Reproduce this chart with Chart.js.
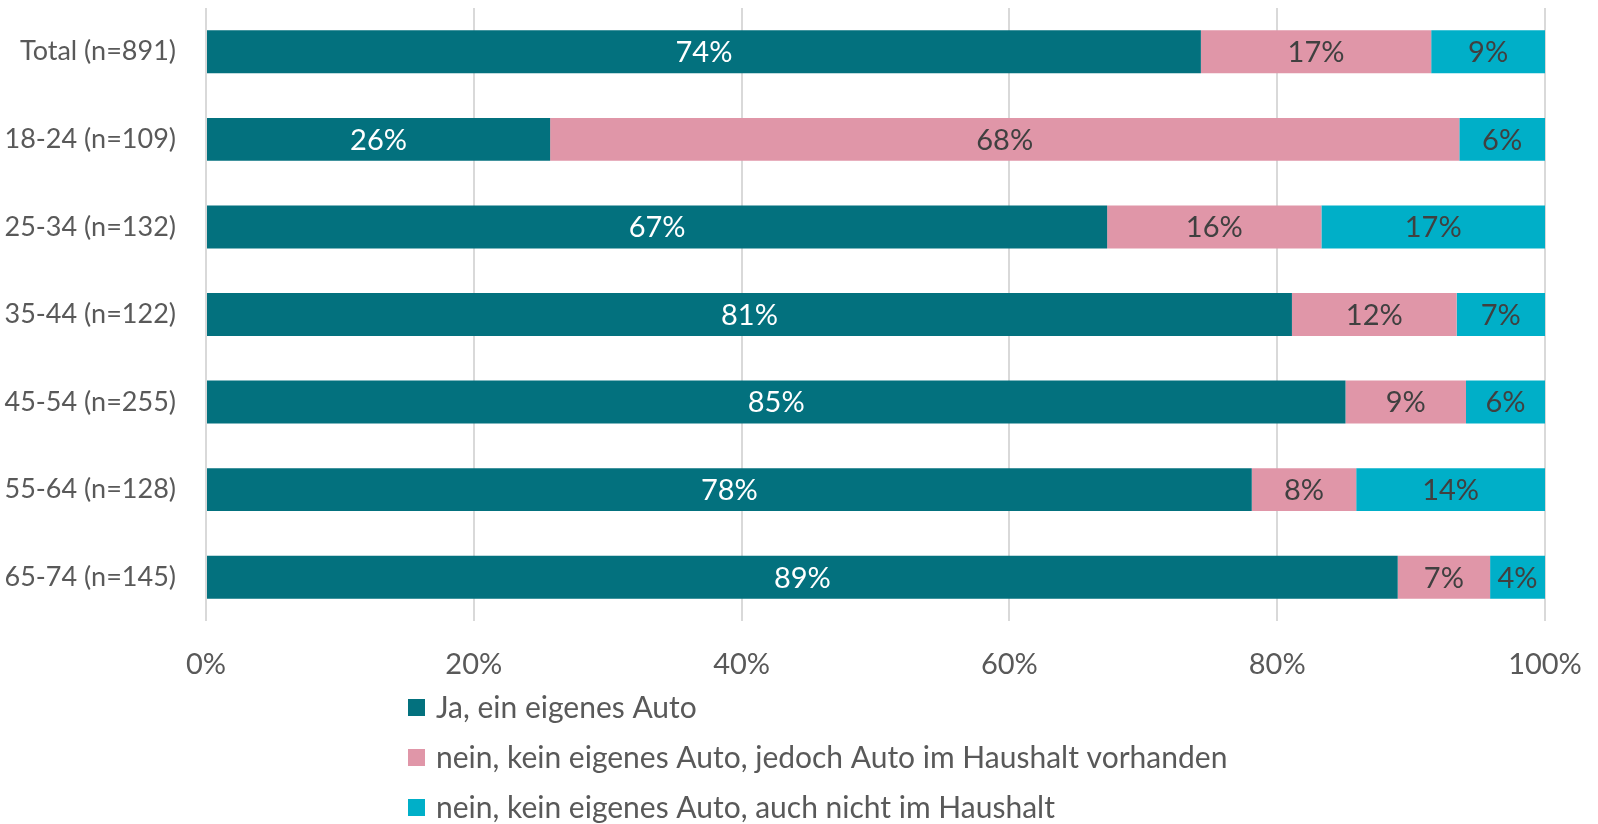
<!DOCTYPE html>
<html>
<head>
<meta charset="utf-8">
<script src="https://cdn.jsdelivr.net/npm/chart.js@4.4.1/dist/chart.umd.min.js"></script>
<style>
  html, body { margin: 0; padding: 0; background: #fff; }
  #wrap { width: 1598px; height: 824px; }
</style>
</head>
<body>
<div id="wrap"><canvas id="chart" width="1598" height="824"></canvas></div>
<script>
// ── Data ──
const categories = ["Total (n=891)", "18-24 (n=109)", "25-34 (n=132)", "35-44 (n=122)", "45-54 (n=255)", "55-64 (n=128)", "65-74 (n=145)"];
const seriesNames = [
  "Ja, ein eigenes Auto",
  "nein, kein eigenes Auto, jedoch Auto im Haushalt vorhanden",
  "nein, kein eigenes Auto, auch nicht im Haushalt"
];
const ownCar       = [74.3, 25.7, 67.3, 81.1, 85.1, 78.1, 89.0];
const householdCar = [17.2, 67.9, 16.0, 12.3, 9.0, 7.8, 6.9];
const noCar        = [8.5, 6.4, 16.7, 6.6, 5.9, 14.1, 4.1];
const xTicks = [0, 20, 40, 60, 80, 100];

const COLORS = ["#03717e", "#e096a8", "#00afc8"];
const LABEL_COLORS = ["#ffffff", "#404040", "#404040"];
const FONT = "Lato";
const FONT_SIZE = 29;
const CAT_FONT_SIZE = 27;

// ── Bar value labels ──
const barLabels = {
  id: "barLabels",
  afterDatasetsDraw(chart) {
    const ctx = chart.ctx;
    ctx.save();
    ctx.font = `${FONT_SIZE}px ${FONT}`;
    ctx.textAlign = "center";
    ctx.textBaseline = "middle";
    chart.data.datasets.forEach((ds, i) => {
      chart.getDatasetMeta(i).data.forEach((el, j) => {
        ctx.fillStyle = LABEL_COLORS[i];
        ctx.fillText(Math.round(ds.data[j]) + "%", (el.x + el.base) / 2, el.y + 1);
      });
    });
    ctx.restore();
  }
};

// ── Stacked legend below the axis ──
const stackedLegend = {
  id: "stackedLegend",
  afterDraw(chart) {
    const ctx = chart.ctx;
    const left = chart.chartArea.left + 202;
    const top = chart.chartArea.bottom + 86;
    ctx.save();
    ctx.font = `30px ${FONT}`;
    ctx.textBaseline = "middle";
    chart.data.datasets.forEach((ds, i) => {
      const y = top + i * 50;
      ctx.fillStyle = ds.backgroundColor;
      ctx.fillRect(left, y - 8, 17, 17);
      ctx.fillStyle = "#595959";
      ctx.fillText(ds.label, left + 28, y + 1);
    });
    ctx.restore();
  }
};

// drop the automatic label overflow padding so the plot area keeps its size
const noAutoPadding = s => {
  s.paddingTop = 0; s.paddingBottom = 0; s.paddingLeft = 0; s.paddingRight = 0;
};

new Chart(document.getElementById("chart"), {
  type: "bar",
  data: {
    labels: categories,
    datasets: [ownCar, householdCar, noCar].map((d, i) => ({
      label: seriesNames[i],
      data: d,
      backgroundColor: COLORS[i],
      borderWidth: 0,
      categoryPercentage: 1,
      barPercentage: 0.49
    }))
  },
  options: {
    indexAxis: "y",
    responsive: false,
    animation: false,
    layout: { padding: { top: 8, right: 53, bottom: 143, left: 0 } },
    plugins: { legend: { display: false }, tooltip: { enabled: false } },
    scales: {
      x: {
        stacked: true,
        min: 0, max: 100,
        afterBuildTicks: s => { s.ticks = xTicks.map(v => ({ value: v })); },
        afterFit: s => { s.height = 60; noAutoPadding(s); },
        grid: { color: "#d9d9d9", lineWidth: 2, drawTicks: false },
        border: { display: false },
        ticks: {
          padding: 26,
          color: "#595959",
          font: { family: FONT, size: FONT_SIZE },
          callback: v => v + "%"
        }
      },
      y: {
        stacked: true,
        afterFit: s => { s.width = 206; noAutoPadding(s); },
        grid: { display: false, drawTicks: false },
        border: { display: false },
        ticks: {
          padding: 30,
          color: "#595959",
          font: { family: FONT, size: CAT_FONT_SIZE }
        }
      }
    }
  },
  plugins: [barLabels, stackedLegend]
});
</script>
</body>
</html>
